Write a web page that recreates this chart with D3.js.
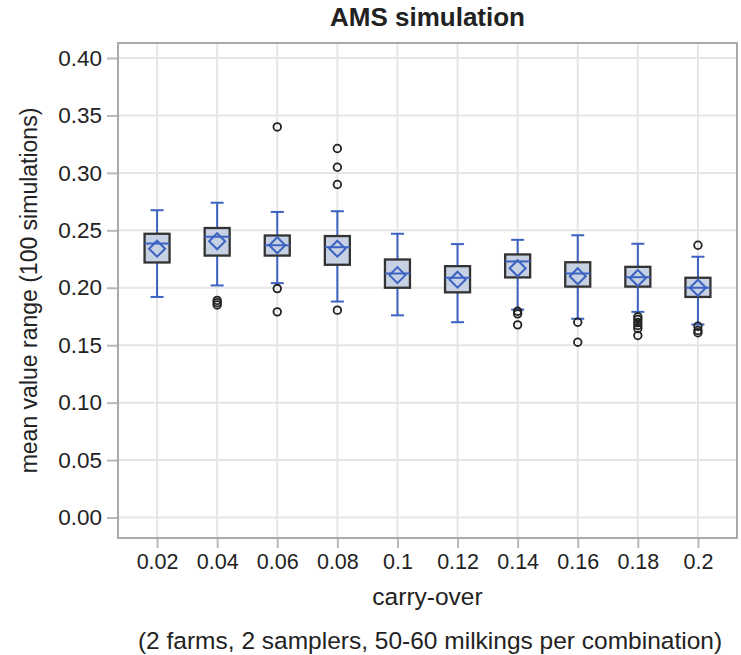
<!DOCTYPE html>
<html>
<head>
<meta charset="utf-8">
<script src="https://cdn.jsdelivr.net/npm/d3@7"></script>
<style>
  body { margin: 0; background: #fff; }
  text { font-family: "Liberation Sans", Arial, sans-serif; fill: #222; }
</style>
</head>
<body>
<svg id="chart" width="741" height="655"></svg>
<script>
// carry-over levels and box statistics
var categories = ["0.02", "0.04", "0.06", "0.08", "0.1", "0.12", "0.14", "0.16", "0.18", "0.2"];
var whiskerLow  = [0.192, 0.202, 0.204, 0.188, 0.176, 0.170, 0.181, 0.173, 0.179, 0.168];
var q1          = [0.222, 0.228, 0.228, 0.220, 0.200, 0.196, 0.209, 0.201, 0.201, 0.192];
var median      = [0.2385, 0.2444, 0.237, 0.2353, 0.2124, 0.2087, 0.2229, 0.2124, 0.2092, 0.200];
var q3          = [0.247, 0.252, 0.2455, 0.245, 0.2246, 0.2188, 0.229, 0.2222, 0.2182, 0.2087];
var whiskerHigh = [0.2675, 0.274, 0.266, 0.2666, 0.247, 0.238, 0.2417, 0.2457, 0.2383, 0.227];
var mean        = [0.234, 0.2405, 0.237, 0.234, 0.211, 0.207, 0.217, 0.210, 0.2085, 0.200];
var outliers = [
  [],
  [0.189, 0.187, 0.185],
  [0.340, 0.1993, 0.179],
  [0.3212, 0.3049, 0.2899, 0.1805],
  [],
  [],
  [0.1795, 0.1773, 0.1677],
  [0.170, 0.1526],
  [0.1747, 0.1724, 0.1697, 0.1671, 0.1645, 0.1584],
  [0.237, 0.1665, 0.1628, 0.1608]
];
var yTicks = [0, 0.05, 0.10, 0.15, 0.20, 0.25, 0.30, 0.35, 0.40];

var svg = d3.select("#chart");
var plotLeft = 118, plotRight = 737, plotTop = 43, plotBottom = 538;
var blue = "#3c62c2";

var x = d3.scalePoint().domain(categories).range([plotLeft, plotRight]).padding(0.65);
var y = d3.scaleLinear().domain([0, 0.4]).range([517.5, 58]);

var boxes = categories.map(function(c, i) {
  return { cat: c, lo: whiskerLow[i], q1: q1[i], med: median[i], q3: q3[i],
           hi: whiskerHigh[i], mean: mean[i], out: outliers[i] };
});

// grid
svg.append("g").selectAll("line").data(yTicks).enter().append("line")
  .attr("x1", plotLeft).attr("x2", plotRight)
  .attr("y1", function(d) { return y(d); }).attr("y2", function(d) { return y(d); })
  .attr("stroke", "#e6e6e6").attr("stroke-width", 2);
svg.append("g").selectAll("line").data(categories).enter().append("line")
  .attr("y1", plotTop).attr("y2", plotBottom)
  .attr("x1", function(d) { return x(d); }).attr("x2", function(d) { return x(d); })
  .attr("stroke", "#e6e6e6").attr("stroke-width", 2);

// axes
var yAxis = svg.append("g")
  .attr("transform", "translate(" + plotLeft + ",0)")
  .call(d3.axisLeft(y).tickValues(yTicks).tickFormat(d3.format(".2f")).tickSize(11).tickPadding(5));
var xAxis = svg.append("g")
  .attr("transform", "translate(0," + plotBottom + ")")
  .call(d3.axisBottom(x).tickSize(10).tickPadding(6));
[yAxis, xAxis].forEach(function(a) {
  a.select(".domain").remove();
  a.selectAll(".tick line").attr("stroke", "#b8b8b8").attr("stroke-width", 2);
  a.selectAll(".tick text").style("font-size", "21.5px").attr("fill", "#222");
});
yAxis.selectAll(".tick text").style("font-size", "22.5px");

// frame
svg.append("rect")
  .attr("x", plotLeft).attr("y", plotTop)
  .attr("width", plotRight - plotLeft).attr("height", plotBottom - plotTop)
  .attr("fill", "none").attr("stroke", "#a7abaf").attr("stroke-width", 2);

var bw = 25, cap = 13, dm = 8;
var g = svg.selectAll(".box").data(boxes).enter().append("g").attr("class", "box");

// whiskers
g.append("line")
  .attr("x1", function(d) { return x(d.cat); }).attr("x2", function(d) { return x(d.cat); })
  .attr("y1", function(d) { return y(d.hi); }).attr("y2", function(d) { return y(d.lo); })
  .attr("stroke", blue).attr("stroke-width", 2);
["hi", "lo"].forEach(function(k) {
  g.append("line")
    .attr("x1", function(d) { return x(d.cat) - cap / 2; })
    .attr("x2", function(d) { return x(d.cat) + cap / 2; })
    .attr("y1", function(d) { return y(d[k]); }).attr("y2", function(d) { return y(d[k]); })
    .attr("stroke", blue).attr("stroke-width", 2);
});

// box
g.append("rect")
  .attr("x", function(d) { return x(d.cat) - bw / 2; })
  .attr("y", function(d) { return y(d.q3); })
  .attr("width", bw)
  .attr("height", function(d) { return y(d.q1) - y(d.q3); })
  .attr("fill", "#c6d1e4").attr("stroke", "#333").attr("stroke-width", 2.3);

// median
g.append("line")
  .attr("x1", function(d) { return x(d.cat) - bw / 2; })
  .attr("x2", function(d) { return x(d.cat) + bw / 2; })
  .attr("y1", function(d) { return y(d.med); }).attr("y2", function(d) { return y(d.med); })
  .attr("stroke", blue).attr("stroke-width", 2);

// mean diamond
g.append("path")
  .attr("d", function(d) {
    var cx = x(d.cat), cy = y(d.mean);
    return "M" + cx + "," + (cy - dm) + "L" + (cx + dm) + "," + cy +
           "L" + cx + "," + (cy + dm) + "L" + (cx - dm) + "," + cy + "Z";
  })
  .attr("fill", "none").attr("stroke", blue).attr("stroke-width", 2);

// outliers
g.selectAll("circle").data(function(d) {
    return d.out.map(function(v) { return { cat: d.cat, v: v }; });
  }).enter().append("circle")
  .attr("cx", function(d) { return x(d.cat); })
  .attr("cy", function(d) { return y(d.v); })
  .attr("r", 3.8)
  .attr("fill", "none").attr("stroke", "#222").attr("stroke-width", 1.8);

// titles
svg.append("text")
  .attr("x", (plotLeft + plotRight) / 2).attr("y", 26)
  .attr("text-anchor", "middle")
  .style("font-size", "26px").style("font-weight", "bold")
  .text("AMS simulation");
svg.append("text")
  .attr("x", (plotLeft + plotRight) / 2).attr("y", 605)
  .attr("text-anchor", "middle").style("font-size", "24.5px")
  .text("carry-over");
svg.append("text")
  .attr("x", 430).attr("y", 649)
  .attr("text-anchor", "middle").style("font-size", "24.5px")
  .text("(2 farms, 2 samplers, 50-60 milkings per combination)");
svg.append("text")
  .attr("transform", "translate(37," + ((plotTop + plotBottom) / 2) + ") rotate(-90)")
  .attr("text-anchor", "middle").style("font-size", "23px")
  .text("mean value range (100 simulations)");
</script>
</body>
</html>
